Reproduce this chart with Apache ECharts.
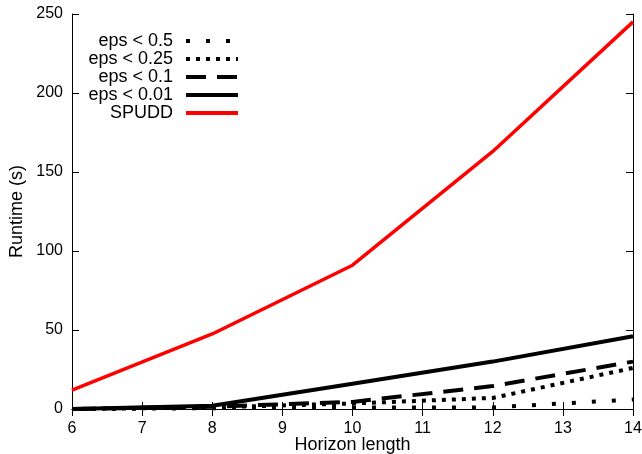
<!DOCTYPE html>
<html>
<head>
<meta charset="utf-8">
<script src="https://cdn.jsdelivr.net/npm/echarts@6/dist/echarts.min.js"></script>
<style>html,body{margin:0;padding:0;background:#fff}#c{width:642px;height:454px}</style>
</head>
<body>
<div id="c"></div>
<script>
const horizons = [6, 8, 10, 12, 14];
const eps05 = [0, 0.5, 1, 1, 6];
const eps025 = [0, 1, 3.5, 7, 26];
const eps01 = [0, 1.5, 4.5, 14.5, 30];
const eps001 = [0, 2, 16, 30, 46];
const spudd = [12, 47.5, 91, 163, 245];
const seriesNames = ['eps < 0.5', 'eps < 0.25', 'eps < 0.1', 'eps < 0.01', 'SPUDD'];

function pts(ys) { return horizons.map((x, i) => [x, ys[i]]); }
const font = 'Liberation Sans, Arial, Helvetica, sans-serif';

const styles = [
  { color: '#000', width: 4, type: [4, 16] },
  { color: '#000', width: 4, type: [4, 6] },
  { color: '#000', width: 4, type: [20, 11] },
  { color: '#000', width: 4, type: 'solid' },
  { color: '#ff0000', width: 3.5, type: 'solid' }
];
const values = [eps05, eps025, eps01, eps001, spudd];

const chart = echarts.init(document.getElementById('c'), null, { renderer: 'canvas' });
const axisCommon = {
  axisLine: { show: true, lineStyle: { color: '#000', width: 1 } },
  axisTick: { show: true, inside: true, length: 7, lineStyle: { color: '#000' } },
  splitLine: { show: false }
};
chart.setOption({
  animation: false,
  backgroundColor: '#fff',
  grid: { left: 72, right: 9, top: 14, bottom: 45, containLabel: false, outerBoundsMode: 'none' },
  legend: {
    orient: 'vertical',
    left: 76, top: 27,
    align: 'right',
    itemWidth: 52, itemHeight: 14,
    itemGap: 0,
    data: seriesNames,
    itemStyle: { opacity: 0 },
    lineStyle: { width: 4 },
    textStyle: { fontFamily: font, fontSize: 18, lineHeight: 14, color: '#000', width: 92, align: 'right', padding: [0, 8, 0, 0] }
  },
  xAxis: [
    Object.assign({}, axisCommon, {
      type: 'value', min: 6, max: 14, interval: 1, position: 'bottom',
      name: 'Horizon length', nameLocation: 'middle', nameGap: 27, nameMoveOverlap: false,
      nameTextStyle: { fontFamily: font, fontSize: 18, color: '#000' },
      axisLabel: { fontFamily: font, fontSize: 16, color: '#000', margin: 12 }
    }),
    Object.assign({}, axisCommon, {
      type: 'value', min: 6, max: 14, interval: 1, position: 'top',
      axisLabel: { show: false }
    })
  ],
  yAxis: [
    Object.assign({}, axisCommon, {
      type: 'value', min: 0, max: 250, interval: 50, position: 'left',
      name: 'Runtime (s)', nameLocation: 'middle', nameGap: 46, nameMoveOverlap: false,
      nameTextStyle: { fontFamily: font, fontSize: 18, color: '#000' },
      axisLabel: { fontFamily: font, fontSize: 16, color: '#000', margin: 9 }
    }),
    Object.assign({}, axisCommon, {
      type: 'value', min: 0, max: 250, interval: 50, position: 'right',
      axisLabel: { show: false }
    })
  ],
  series: seriesNames.map((n, i) => ({
    name: n,
    type: 'line',
    data: pts(values[i]),
    xAxisIndex: 0, yAxisIndex: 0,
    showSymbol: false,
    symbol: 'none',
    lineStyle: { color: styles[i].color, width: styles[i].width, type: styles[i].type, cap: 'butt' },
    itemStyle: { color: styles[i].color },
    z: 2 + i
  }))
});
</script>
</body>
</html>
